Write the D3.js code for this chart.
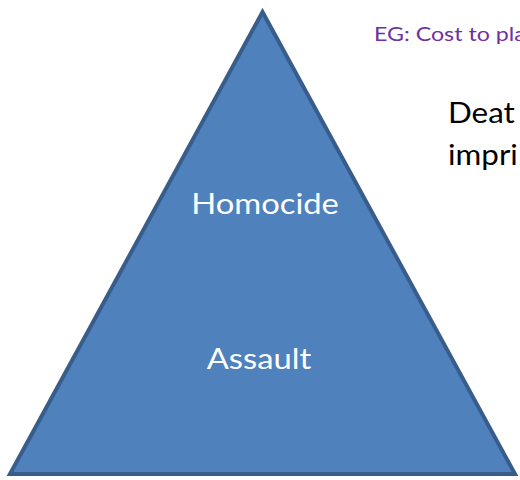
<!DOCTYPE html>
<html><head><meta charset="utf-8">
<script src="https://cdn.jsdelivr.net/npm/d3@7"></script>
<style>html,body{margin:0;padding:0;background:#fff;overflow:hidden}</style>
</head><body>
<svg id="c" width="520" height="480"></svg>
<script>
const levels = ["Homocide", "Assault"];
const levelHeights = [0.563, 0.227];
const levelOffsets = [0.01, -0.014];
const pyramidX = [-1, 0, 1];
const pyramidY = [0, 1, 0];
const noteLines = ["EG: Cost to pla"];
const sideLines = ["Deat", "impri"];

const svg = d3.select("#c");
const x = d3.scaleLinear().domain([-1, 1]).range([10, 515]);
const y = d3.scaleLinear().domain([0, 1]).range([474, 12]);

const pts = pyramidX.map((v, i) => [x(v), y(pyramidY[i])]);
svg.append("path")
  .attr("d", d3.line()(pts) + "Z")
  .attr("fill", "#4F81BD")
  .attr("stroke", "#385D8A")
  .attr("stroke-width", 4)
  .attr("stroke-linejoin", "miter");

const font = "Lato, 'Open Sans', sans-serif";

svg.selectAll("text.lvl").data(levels).join("text")
  .attr("class", "lvl")
  .attr("transform", (d, i) => `translate(${x(levelOffsets[i])},${y(levelHeights[i])}) scale(1.17,1)`)
  .attr("text-anchor", "middle")
  .attr("fill", "#fff")
  .style("font-family", font)
  .style("font-size", "28px")
  .text(d => d);

svg.selectAll("text.note").data(noteLines).join("text")
  .attr("class", "note")
  .attr("transform", "translate(374,41) scale(1.19,1)")
  .attr("fill", "#7030A0")
  .style("font-family", font)
  .style("font-size", "19.5px")
  .text(d => d);

svg.selectAll("text.side").data(sideLines).join("text")
  .attr("class", "side")
  .attr("transform", (d, i) => `translate(448,${123 + i * 42}) scale(1.12,1)`)
  .attr("fill", "#000")
  .style("font-family", font)
  .style("font-size", "28px")
  .text(d => d);
</script>
</body></html>
